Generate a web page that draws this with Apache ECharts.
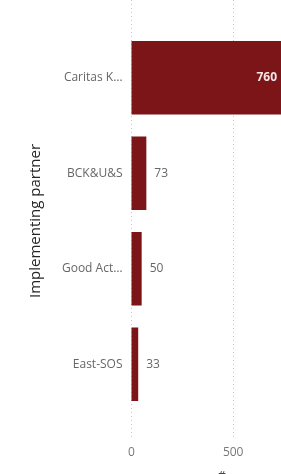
<!DOCTYPE html>
<html>
<head>
<meta charset="utf-8">
<script src="https://cdn.jsdelivr.net/npm/echarts@6/dist/echarts.min.js"></script>
<style>
  html, body { margin: 0; padding: 0; background: #fff; }
  #chart { width: 281px; height: 474px; }
</style>
</head>
<body>
<div id="chart"></div>
<script>
// Implementing partners
var partners = ['Caritas K…', 'BCK&U&S', 'Good Act…', 'East-SOS'];
var counts = [760, 73, 50, 33];
var xTicks = [0, 500];

var barColor = '#7b1518';
var fontName = "'Open Sans', 'Noto Sans', sans-serif";

var chart = echarts.init(document.getElementById('chart'));
var option = {
    animation: false,
    grid: [
        // bars
        { left: 131.5, top: 30, height: 382, width: 162.7, outerBoundsMode: 'none' },
        // full height grid for dotted lines and ticks
        { left: 131.5, top: 0, height: 438, width: 162.7, outerBoundsMode: 'none' }
    ],
    xAxis: [
        {
            gridIndex: 0, type: 'value', min: 0, max: 800, show: false
        },
        {
            gridIndex: 1, type: 'value', min: 0, max: 800, interval: xTicks[1] - xTicks[0],
            axisLine: { show: false },
            axisTick: { show: false },
            axisLabel: {
                color: '#777', fontSize: 12, fontFamily: fontName, margin: 9,
                formatter: function(v) { return xTicks.indexOf(v) > -1 ? v : ''; }
            },
            splitLine: { show: true, lineStyle: { color: '#c8c8c8', type: [1, 3], width: 1 } },
            name: '#',
            nameLocation: 'middle',
            nameGap: 33,
            nameTextStyle: { color: '#444', fontSize: 12, fontFamily: fontName, padding: [0, 0, 0, 18] }
        }
    ],
    yAxis: [
        {
            gridIndex: 0, type: 'category', inverse: true,
            data: partners,
            axisLine: { show: false },
            axisTick: { show: false },
            axisLabel: { color: '#666', fontSize: 12, fontFamily: fontName, margin: 9 },
            name: 'Implementing partner',
            nameLocation: 'middle',
            nameGap: 88,
            nameRotate: 90,
            nameTextStyle: { color: '#252525', fontSize: 15, fontFamily: fontName }
        },
        {
            gridIndex: 1, type: 'value', min: 0, max: 1, show: false
        }
    ],
    series: [
        {
            type: 'bar',
            xAxisIndex: 0, yAxisIndex: 0,
            data: counts.map(function(v, i) {
                var inside = i === 0;
                return {
                    value: v,
                    label: inside
                        ? { position: 'insideRight', distance: 9, color: '#f3e6e6', fontWeight: 'bold' }
                        : { position: 'right', distance: 8, color: '#666' }
                };
            }),
            barCategoryGap: '23%',
            itemStyle: { color: barColor },
            label: { show: true, fontSize: 12, fontFamily: fontName }
        }
    ]
};
chart.setOption(option);
</script>
</body>
</html>
